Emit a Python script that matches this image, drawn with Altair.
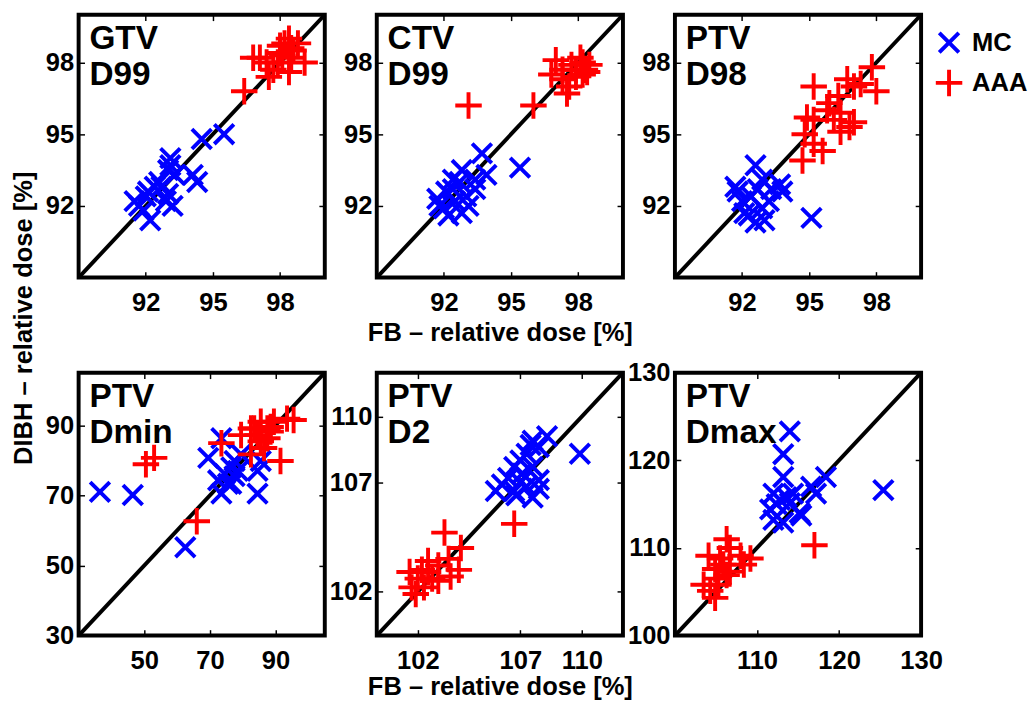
import altair as alt
import pandas as pd

methods = ["MC", "AAA"]
method_colors = ["#0000ff", "#ff0000"]
shape_x = "M-0.74,-0.74L0.74,0.74M0.74,-0.74L-0.74,0.74"
shape_plus = "M-1,0L1,0M0,-1L0,1"

panel_titles = [["GTV", "D99"], ["CTV", "D99"], ["PTV", "D98"],
                ["PTV", "Dmin"], ["PTV", "D2"], ["PTV", "Dmax"]]
domains = [[89, 100], [89, 100], [89, 100], [30, 105], [100, 112], [100, 130]]
x_ticks = [[92, 95, 98], [92, 95, 98], [92, 95, 98], [50, 70, 90], [102, 107, 110], [110, 120, 130]]
y_ticks = [[92, 95, 98], [92, 95, 98], [92, 95, 98], [30, 50, 70, 90], [102, 107, 110], [100, 110, 120, 130]]

# GTV D99
gtv_mc_fb = [91.5, 92.2, 91.9, 92.0, 92.6, 93.0, 93.1, 93.1, 92.7, 93.0, 93.2, 92.9, 92.4, 91.7, 94.1, 94.3, 94.5, 95.5, 93.3, 92.1]
gtv_mc_dibh = [92.2, 91.4, 91.8, 92.4, 93.0, 93.5, 94.0, 93.7, 92.8, 92.5, 92.0, 92.2, 92.8, 92.0, 93.3, 93.0, 94.8, 95.0, 93.3, 92.6]
gtv_aaa_fb = [96.4, 96.8, 97.1, 97.4, 97.7, 98.0, 98.2, 98.4, 98.5, 98.8, 99.1, 98.4, 98.1, 97.9, 97.5, 98.5, 98.0, 98.6]
gtv_aaa_dibh = [96.8, 98.2, 98.2, 98.0, 97.7, 98.4, 98.8, 99.0, 98.6, 98.8, 98.0, 97.6, 98.3, 98.0, 97.4, 98.2, 98.7, 98.5]

# CTV D99
ctv_mc_fb = [91.7, 92.0, 92.2, 92.5, 92.4, 92.7, 92.8, 93.0, 92.8, 93.1, 93.4, 93.7, 93.9, 95.4, 92.1, 91.8, 92.4, 93.4]
ctv_mc_dibh = [92.3, 91.9, 91.6, 92.2, 92.7, 93.0, 93.5, 92.4, 91.7, 92.0, 92.7, 94.2, 93.3, 93.6, 92.6, 92.0, 93.1, 93.1]
ctv_aaa_fb = [93.1, 96.0, 97.0, 97.3, 97.5, 97.7, 97.9, 98.2, 98.3, 98.5, 97.9, 97.6, 97.3, 98.1, 98.2, 98.4, 96.8]
ctv_aaa_dibh = [96.2, 96.2, 98.1, 97.7, 96.7, 97.9, 97.7, 98.0, 97.7, 97.9, 97.4, 97.0, 97.3, 98.2, 97.5, 97.6, 97.5]

# PTV D98
d98_mc_fb = [92.6, 91.8, 92.0, 92.3, 92.6, 92.4, 92.7, 92.9, 93.2, 93.3, 93.7, 93.8, 93.0, 92.1, 95.1, 92.9, 91.7]
d98_mc_dibh = [93.7, 92.6, 92.2, 91.6, 91.3, 92.4, 92.7, 91.9, 92.2, 92.7, 92.9, 92.6, 91.4, 91.7, 91.5, 93.1, 92.8]
d98_aaa_fb = [95.2, 94.9, 94.8, 95.2, 95.6, 94.7, 95.2, 95.9, 96.1, 96.4, 96.8, 97.0, 96.4, 96.7, 97.0, 97.3, 97.8, 98.0, 96.3, 95.8]
d98_aaa_dibh = [97.0, 95.7, 95.0, 94.6, 94.3, 93.9, 95.6, 96.3, 95.6, 95.1, 95.3, 95.5, 95.9, 97.3, 97.0, 97.1, 97.8, 96.8, 96.6, 96.0]

# PTV Dmin
dmin_mc_fb = [36.5, 46.5, 62.5, 69.5, 73.5, 73.5, 74.5, 75.5, 76.5, 77.5, 78.5, 79.5, 84.5, 84.5, 85.5, 76.5, 72.5, 77.5]
dmin_mc_dibh = [71.0, 70.1, 55.2, 80.7, 86.3, 70.5, 76.1, 73.3, 78.0, 75.5, 77.0, 81.7, 70.5, 77.0, 79.8, 73.3, 74.3, 79.8]
dmin_aaa_fb = [50.5, 53.0, 66.0, 73.5, 79.5, 83.5, 85.5, 87.5, 89.5, 91.5, 93.5, 85.5, 82.5, 87.5, 84.5, 82.5, 88.5, 86.5, 88.5, 95.5]
dmin_aaa_dibh = [78.9, 80.7, 62.6, 84.9, 87.2, 89.1, 91.0, 89.1, 91.0, 79.8, 91.9, 85.4, 81.7, 86.3, 87.2, 89.1, 89.5, 83.5, 88.2, 91.5]

# PTV D2
d2_mc_fb = [105.8, 106.1, 106.4, 106.7, 107.0, 107.3, 107.5, 107.6, 108.3, 107.9, 107.1, 107.3, 107.6, 107.9, 107.9, 106.8, 109.9, 107.0, 106.7, 107.6]
d2_mc_dibh = [106.6, 106.9, 107.2, 107.7, 108.0, 108.3, 108.7, 108.9, 109.1, 108.6, 107.4, 106.8, 106.3, 107.1, 106.7, 106.4, 108.3, 107.0, 106.6, 107.7]
d2_aaa_fb = [103.3, 104.1, 104.0, 103.5, 103.0, 102.5, 102.0, 101.7, 101.9, 102.3, 102.7, 103.0, 102.2, 106.7, 103.6, 102.5, 101.6]
d2_aaa_dibh = [104.7, 104.0, 103.0, 103.5, 103.2, 102.9, 102.6, 102.2, 101.9, 102.2, 102.6, 102.5, 103.0, 105.1, 102.7, 103.4, 102.9]

# PTV Dmax
dmax_mc_fb = [114.0, 113.2, 113.2, 112.0, 112.8, 113.6, 114.0, 111.6, 112.0, 113.2, 115.2, 115.4, 117.2, 118.4, 125.4, 112.4, 114.4, 116.6]
dmax_mc_dibh = [123.3, 120.7, 118.1, 116.2, 115.5, 115.8, 115.1, 114.4, 113.2, 112.9, 114.0, 113.7, 116.2, 118.1, 116.6, 115.0, 116.2, 117.0]
dmax_aaa_fb = [117.0, 106.3, 104.1, 105.5, 108.0, 109.2, 108.4, 106.7, 105.1, 103.5, 104.3, 104.9, 105.3, 106.3, 104.9, 106.7, 105.9]
dmax_aaa_dibh = [110.3, 111.0, 109.1, 108.8, 109.1, 108.8, 108.1, 107.3, 106.5, 105.8, 105.1, 104.3, 105.8, 106.9, 107.6, 110.0, 108.1]

series = [
    (gtv_mc_fb, gtv_mc_dibh, gtv_aaa_fb, gtv_aaa_dibh),
    (ctv_mc_fb, ctv_mc_dibh, ctv_aaa_fb, ctv_aaa_dibh),
    (d98_mc_fb, d98_mc_dibh, d98_aaa_fb, d98_aaa_dibh),
    (dmin_mc_fb, dmin_mc_dibh, dmin_aaa_fb, dmin_aaa_dibh),
    (d2_mc_fb, d2_mc_dibh, d2_aaa_fb, d2_aaa_dibh),
    (dmax_mc_fb, dmax_mc_dibh, dmax_aaa_fb, dmax_aaa_dibh),
]

FONT = "Liberation Sans"
W, H = 251, 268
TICK = 6
x_title = "FB – relative dose [%]"
y_title = "DIBH – relative dose [%]"

legend_kwargs = dict(title=None, orient="none", legendX=872, legendY=13,
                     labelFont=FONT, labelFontSize=26, labelFontWeight="bold",
                     labelColor="black", symbolSize=729, symbolStrokeWidth=4,
                     rowPadding=1, labelOffset=8, padding=0)

panels = []
for i, (mfb, mdi, afb, adi) in enumerate(series):
    dom = domains[i]
    df = pd.DataFrame({
        "fb": list(mfb) + list(afb),
        "dibh": list(mdi) + list(adi),
        "method": ["MC"] * len(mfb) + ["AAA"] * len(afb),
    })
    sc = alt.Scale(domain=dom, nice=False, zero=False)

    bx_kwargs = dict(orient="bottom", values=x_ticks[i], offset=-TICK, tickSize=TICK,
                     labelPadding=13, titlePadding=(4 if i < 3 else 0))
    bx_kwargs["title"] = x_title if i in (1, 4) else None
    ly_kwargs = dict(orient="left", values=y_ticks[i], offset=-TICK, tickSize=TICK,
                     labelPadding=5)
    if i == 3:
        ly_kwargs.update(title=y_title, titleX=-62, titleY=-56, titleBaseline="middle",
                         titleAlign="center", titleAngle=270)
    else:
        ly_kwargs["title"] = None

    points = alt.Chart(df).mark_point(filled=False, strokeWidth=4, opacity=1, size=729).encode(
        x=alt.X("fb:Q", scale=sc, axis=alt.Axis(**bx_kwargs)),
        y=alt.Y("dibh:Q", scale=sc, axis=alt.Axis(**ly_kwargs)),
        color=alt.Color("method:N", scale=alt.Scale(domain=methods, range=method_colors),
                        legend=alt.Legend(**legend_kwargs)),
        shape=alt.Shape("method:N", scale=alt.Scale(domain=methods, range=[shape_x, shape_plus]),
                        legend=alt.Legend(**legend_kwargs)),
        order=alt.Order("ord:Q"),
    ).transform_calculate(ord="datum.method == 'MC' ? 0 : 1")

    diag_df = pd.DataFrame({"v": dom})
    diag = alt.Chart(diag_df).mark_line(color="black", strokeWidth=4).encode(
        x=alt.X("v:Q", scale=sc, axis=alt.Axis(orient="top", values=x_ticks[i], offset=-TICK,
                                               tickSize=TICK, labels=False, title=None)),
        y=alt.Y("v:Q", scale=sc, axis=alt.Axis(orient="right", values=y_ticks[i], offset=-TICK,
                                               tickSize=TICK, labels=False, title=None)),
    )

    label = alt.Chart(pd.DataFrame({"k": [0]})).mark_text(
        text=panel_titles[i], align="left", baseline="top", font=FONT,
        fontWeight="bold", fontSize=34, lineHeight=37, color="black",
    ).encode(x=alt.value(11), y=alt.value(8))

    panel = alt.layer(diag, points, label).resolve_axis(x="independent", y="independent").properties(
        width=W, height=H)
    panels.append(panel)

chart = alt.concat(*panels, columns=3, spacing={"row": 97, "column": 53}, bounds="flush").properties(
    padding={"left": 0, "top": -10, "right": 0, "bottom": 0}
).configure_view(stroke="black", strokeWidth=4).configure_axis(
    labelFont=FONT, labelFontSize=26, labelFontWeight="bold", labelColor="black",
    tickColor="black", tickWidth=1.5, domain=False, grid=False, labelFlush=False,
    titleFont=FONT, titleFontSize=26, titleFontWeight="bold", titleColor="black",
)

chart.save("out.html", embed_options={"renderer": "svg", "actions": False})
